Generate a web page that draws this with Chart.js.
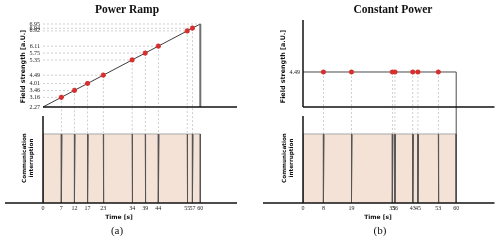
<!DOCTYPE html>
<html>
<head>
<meta charset="utf-8">
<title>Power Ramp / Constant Power</title>
<script src="https://cdn.jsdelivr.net/npm/chart.js@4.4.1/dist/chart.umd.min.js"></script>
<style>
    body { margin: 0; background: #fff; }
    #figure { position: relative; width: 500px; height: 242px; overflow: hidden; }
    #figure canvas { position: absolute; top: 0; }
</style>
</head>
<body>
<div id="figure">
    <canvas id="ramp-chart" width="250" height="242" style="left:0"></canvas>
    <canvas id="constant-chart" width="250" height="242" style="left:250px"></canvas>
</div>
<script>
// Painel (a): rampa de potência
const rampTimes = [7, 12, 17, 23, 34, 39, 44, 55, 57];
const rampField = [3.16, 3.46, 4.01, 4.49, 5.35, 5.75, 6.11, 6.92, 6.94];
const rampStartField = 2.27;
const rampEndField = 6.95;
const rampTickTimes = [0, 7, 12, 17, 23, 34, 39, 44, 55, 57, 60];

// Painel (b): potência constante
const constTimes = [8, 19, 35, 36, 43, 45, 53];
const constField = [4.49, 4.49, 4.49, 4.49, 4.49, 4.49, 4.49];
const constTickTimes = [0, 8, 19, 35, 36, 43, 45, 53, 60];

// Fim da transmissão
const endTime = 60;

const markerColor = '#d6302e';
const tickFont = { family: '"Liberation Serif", serif', size: 6 };

// Escala do campo da rampa: cada valor fica na altura da rampa no instante da medição
class RampFieldScale extends Chart.LinearScale {
    fieldToPosition(value) {
        const fields = [rampStartField, ...rampField, rampEndField];
        const times = [0, ...rampTimes, endTime];
        for (let i = 1; i < fields.length; i++) {
            if (value <= fields[i] || i === fields.length - 1) {
                const k = (value - fields[i - 1]) / (fields[i] - fields[i - 1]);
                return times[i - 1] + k * (times[i] - times[i - 1]);
            }
        }
        return 0;
    }
    buildTicks() {
        return [rampStartField, ...rampField, rampEndField].map(value => ({ value }));
    }
    getPixelForValue(value) {
        // intervalo visível em "segundos de rampa"
        const posMin = -4.34;
        const posMax = 62.89;
        return this.getPixelForDecimal((this.fieldToPosition(value) - posMin) / (posMax - posMin));
    }
}
RampFieldScale.id = 'rampField';
RampFieldScale.defaults = { ...Chart.LinearScale.defaults };
Chart.register(RampFieldScale);

document.addEventListener('DOMContentLoaded', () => {
    setupFigure();
});

function setupFigure() {
    initRampChart();
    initConstantChart();
}

// Linhas auxiliares, eixos e textos de cada painel
function makePanelPlugin(s) {
    const line = (ctx, x1, y1, x2, y2) => {
        ctx.beginPath();
        ctx.moveTo(x1, y1);
        ctx.lineTo(x2, y2);
        ctx.stroke();
    };
    return {
        id: 'panel',
        beforeDatasetsDraw(chart) {
            const { ctx, scales: { x, yTop, yBot } } = chart;
            const bottom = yBot.getPixelForValue(0);
            ctx.save();
            ctx.strokeStyle = '#c4c4c4';
            ctx.lineWidth = 0.8;
            ctx.setLineDash([2, 2]);
            s.times.forEach((t, i) => {
                const px = x.getPixelForValue(t);
                const py = yTop.getPixelForValue(s.field[i]);
                line(ctx, px, py, px, bottom);
                if (s.horizontal) line(ctx, x.left, py, px, py);
            });
            if (s.horizontal) {
                const py = yTop.getPixelForValue(s.endField);
                line(ctx, x.left, py, x.getPixelForValue(endTime), py);
            }
            ctx.restore();
        },
        afterDatasetsDraw(chart) {
            const { ctx, scales: { x, yTop, yBot } } = chart;
            const base = yTop.getPixelForValue(s.base);
            const bottom = yBot.getPixelForValue(0);
            const endX = x.getPixelForValue(endTime);
            ctx.save();
            // desligamento em t = 60
            ctx.strokeStyle = s.endColor;
            ctx.lineWidth = s.endWidth;
            line(ctx, endX, yTop.getPixelForValue(s.endField), endX, s.endToBottom ? bottom : base);
            // eixos
            ctx.strokeStyle = '#111';
            ctx.lineWidth = 1.5;
            line(ctx, x.left, base, x.right, base);
            if (s.topAxis) line(ctx, x.left, yTop.top, x.left, base);
            line(ctx, x.left, yBot.top + 3, x.left, bottom);
            line(ctx, s.axisStart, bottom, x.right, bottom);
            ctx.restore();
        },
        afterDraw(chart) {
            const { ctx } = chart;
            ctx.save();
            ctx.fillStyle = '#111';
            ctx.textAlign = 'center';
            ctx.textBaseline = 'alphabetic';
            ctx.font = 'bold 11.5px "Liberation Serif"';
            ctx.fillText(s.title, s.titleX, 12.5);
            ctx.textBaseline = 'middle';
            ctx.font = 'bold 6px "DejaVu Sans"';
            ctx.fillText('Time [s]', s.xLabelX, 217);
            ctx.font = '11px "Liberation Serif"';
            ctx.fillText(s.caption, s.captionX, 231);
            ctx.restore();
        }
    };
}

// Sinal de comunicação: cai a zero em cada medição
function commDataset(times) {
    const points = [{ x: 0, y: 0 }, { x: 0, y: 1 }];
    times.forEach(t => points.push({ x: t, y: 1 }, { x: t, y: 0 }, { x: t + 0.25, y: 1 }));
    points.push({ x: endTime, y: 1 }, { x: endTime, y: 0 });
    return {
        data: points,
        yAxisID: 'yBot',
        fill: 'origin',
        backgroundColor: '#f5e2d7',
        borderWidth: 1,
        pointRadius: 0,
        order: 2,
        segment: {
            borderColor: ctx => ctx.p0.parsed.y === ctx.p1.parsed.y ? '#a9a9a9' : '#555555'
        }
    };
}

function markerDataset(times, field) {
    return {
        data: times.map((t, i) => ({ x: t, y: field[i] })),
        yAxisID: 'yTop',
        showLine: false,
        pointStyle: 'star',
        pointRadius: 2.6,
        pointBorderWidth: 1.5,
        pointBorderColor: markerColor,
        pointBackgroundColor: markerColor,
        order: 0
    };
}

function panelOptions(p) {
    return {
        responsive: false,
        animation: false,
        events: [],
        layout: { padding: { top: 20, right: p.padRight, left: 0, bottom: 0 } },
        plugins: {
            legend: { display: false },
            tooltip: { enabled: false },
            title: { display: false }
        },
        scales: {
            x: {
                type: 'linear',
                position: 'bottom',
                min: 0,
                max: p.xMax,
                grid: { display: false, drawTicks: false },
                border: { display: false },
                ticks: {
                    autoSkip: false,
                    maxRotation: 0,
                    padding: 2,
                    font: tickFont,
                    color: '#222',
                    callback: value => String(value)
                },
                afterBuildTicks: scale => { scale.ticks = p.xTicks.map(value => ({ value })); },
                afterFit: scale => { scale.height = 39; }
            },
            yBot: {
                type: 'linear',
                position: 'left',
                stack: 'panel',
                stackWeight: 90,
                min: 0,
                max: 1.304,
                grid: { display: false, drawTicks: false },
                border: { display: false },
                ticks: { display: false },
                title: {
                    display: true,
                    text: ['Communication', 'interruption'],
                    font: { family: '"DejaVu Sans"', size: 5.7, weight: 'bold', lineHeight: 1.2 },
                    color: '#111',
                    padding: { top: p.commTitlePad, bottom: 0 }
                },
                afterFit: scale => { scale.width = p.yWidth; }
            },
            yTop: Object.assign({
                position: 'left',
                stack: 'panel',
                stackWeight: 93,
                grid: { display: false, drawTicks: false },
                border: { display: false },
                ticks: {
                    autoSkip: false,
                    padding: 3,
                    font: tickFont,
                    color: '#222',
                    callback: value => Number(value).toFixed(2)
                },
                title: {
                    display: true,
                    text: 'Field strength [a.U.]',
                    font: { family: '"DejaVu Sans"', size: 6.4, weight: 'bold', lineHeight: 1.2 },
                    color: '#111',
                    padding: { top: p.fieldTitlePad, bottom: 0 }
                },
                afterFit: scale => { scale.width = p.yWidth; }
            }, p.yTop)
        }
    };
}

// Gráfico (a)
function initRampChart() {
    const ctx = document.getElementById('ramp-chart');
    if (!ctx) return;
    window.rampChart = new Chart(ctx, {
        type: 'line',
        data: {
            datasets: [
                markerDataset(rampTimes, rampField),
                {
                    data: [
                        { x: 0, y: rampStartField },
                        ...rampTimes.map((t, i) => ({ x: t, y: rampField[i] })),
                        { x: endTime, y: rampEndField }
                    ],
                    yAxisID: 'yTop',
                    borderColor: '#3c3c3c',
                    borderWidth: 1,
                    pointRadius: 0,
                    order: 1
                },
                commDataset(rampTimes)
            ]
        },
        options: panelOptions({
            padRight: 13,
            xMax: 74,
            xTicks: rampTickTimes,
            yWidth: 43,
            commTitlePad: 21.6,
            fieldTitlePad: 20,
            yTop: { type: 'rampField' }
        }),
        plugins: [makePanelPlugin({
            times: rampTimes,
            field: rampField,
            horizontal: true,
            endField: rampEndField,
            base: rampStartField,
            endColor: '#707070',
            endWidth: 2,
            endToBottom: false,
            topAxis: false,
            axisStart: 5,
            title: 'Power Ramp',
            titleX: 127,
            xLabelX: 119,
            caption: '(a)',
            captionX: 117
        })]
    });
}

// Gráfico (b)
function initConstantChart() {
    const ctx = document.getElementById('constant-chart');
    if (!ctx) return;
    window.constantChart = new Chart(ctx, {
        type: 'line',
        data: {
            datasets: [
                markerDataset(constTimes, constField),
                {
                    data: [{ x: 0, y: constField[0] }, { x: endTime, y: constField[0] }],
                    yAxisID: 'yTop',
                    borderColor: '#4a4a4a',
                    borderWidth: 1,
                    pointRadius: 0,
                    order: 1
                },
                commDataset(constTimes)
            ]
        },
        options: panelOptions({
            padRight: 3,
            xMax: 75,
            xTicks: constTickTimes,
            yWidth: 53,
            commTitlePad: 31.6,
            fieldTitlePad: 29.2,
            yTop: {
                type: 'linear',
                min: -0.77,
                max: 11.16,
                afterBuildTicks: scale => { scale.ticks = [{ value: constField[0] }]; }
            }
        }),
        plugins: [makePanelPlugin({
            times: constTimes,
            field: constField,
            horizontal: false,
            endField: constField[0],
            base: 0,
            endColor: '#4a4a4a',
            endWidth: 1,
            endToBottom: true,
            topAxis: true,
            axisStart: 13,
            title: 'Constant Power',
            titleX: 143,
            xLabelX: 128,
            caption: '(b)',
            captionX: 130
        })]
    });
}
</script>
</body>
</html>
